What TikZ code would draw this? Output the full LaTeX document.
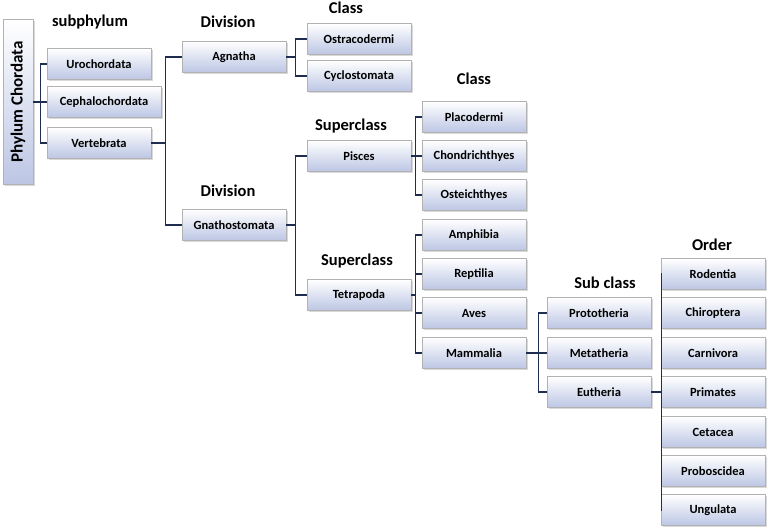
\documentclass[tikz,border=0pt]{standalone}
\usepackage{fontspec}
\setmainfont{Carlito}
\usetikzlibrary{shadows}
\definecolor{boxbot}{RGB}{188,198,228}
\definecolor{lnc}{RGB}{30,45,80}
\begin{document}
\begin{tikzpicture}[x=1pt,y=-1pt,
  bx/.style={draw=gray!60,top color=white,bottom color=boxbot,drop shadow={opacity=0.3,shadow xshift=1.5pt,shadow yshift=-1.5pt},minimum width=104pt,minimum height=31pt,inner sep=1pt,font=\bfseries\fontsize{12.5}{14}\selectfont},
  hd/.style={font=\bfseries\fontsize{16.5}{18}\selectfont},
  ln/.style={draw=lnc,line width=1.3pt}]
\useasboundingbox (0,0) rectangle (768,529);
\node[bx,minimum width=30pt,minimum height=165pt] (pc) at (18,102) {};
\node[rotate=90,font=\bfseries\fontsize{17}{19}\selectfont] (pct) at (pc) {Phylum Chordata};
\node[bx] (uro) at (99,64) {Urochordata};
\node[bx,minimum width=114pt] (cep) at (104,102) {Cephalochordata};
\node[bx] (ver) at (99,143) {Vertebrata};
\node[bx] (agn) at (234,57) {Agnatha};
\node[bx] (gna) at (234,225) {Gnathostomata};
\node[bx] (ost) at (359,39) {Ostracodermi};
\node[bx] (cyc) at (359,76) {Cyclostomata};
\node[bx] (pis) at (359,156) {Pisces};
\node[bx] (tet) at (359,295) {Tetrapoda};
\node[bx] (pla) at (474,117) {Placodermi};
\node[bx] (cho) at (474,156) {Chondrichthyes};
\node[bx] (oste) at (474,195) {Osteichthyes};
\node[bx] (amp) at (474,235) {Amphibia};
\node[bx] (rep) at (474,274) {Reptilia};
\node[bx] (ave) at (474,313) {Aves};
\node[bx] (mam) at (474,353) {Mammalia};
\node[bx] (pro) at (599,313) {Prototheria};
\node[bx] (met) at (599,353) {Metatheria};
\node[bx] (eut) at (599,392) {Eutheria};
\node[bx] (rod) at (713,274) {Rodentia};
\node[bx] (chi) at (713,313) {Chiroptera};
\node[bx] (car) at (713,353) {Carnivora};
\node[bx] (pri) at (713,392) {Primates};
\node[bx] (cet) at (713,432) {Cetacea};
\node[bx] (prb) at (713,471) {Proboscidea};
\node[bx] (ung) at (713,510) {Ungulata};
\node[hd] (h1) at (90,22) {subphylum};
\node[hd] (h2) at (228,22) {Division};
\node[hd] (h3) at (346,8) {Class};
\node[hd] (h4) at (474,79) {Class};
\node[hd] (h5) at (351,126) {Superclass};
\node[hd] (h6) at (228,191) {Division};
\node[hd] (h7) at (357,261) {Superclass};
\node[hd] (h8) at (605,283) {Sub class};
\node[hd] (h9) at (712,245) {Order};
\path[ln] (pc.east) -- ++(7,0);
\foreach \t in {uro,cep,ver} \path[ln] (pc.east) ++(7,0) |- (\t.west);
\foreach \t in {agn,gna} \path[ln] (ver.east) -- ++(14,0) |- (\t.west);
\foreach \t in {ost,cyc} \path[ln] (agn.east) -- ++(9,0) |- (\t.west);
\foreach \t in {pis,tet} \path[ln] (gna.east) -- ++(9,0) |- (\t.west);
\foreach \t in {pla,cho,oste} \path[ln] (pis.east) -- ++(4,0) |- (\t.west);
\foreach \t in {amp,rep,ave,mam} \path[ln] (tet.east) -- ++(4,0) |- (\t.west);
\foreach \t in {pro,met,eut} \path[ln] (mam.east) -- ++(12,0) |- (\t.west);
\foreach \t in {rod,chi,car,pri,cet,prb,ung} \path[ln] (eut.east) -- ++(10,0) |- (\t.west);
\end{tikzpicture}
\end{document}
